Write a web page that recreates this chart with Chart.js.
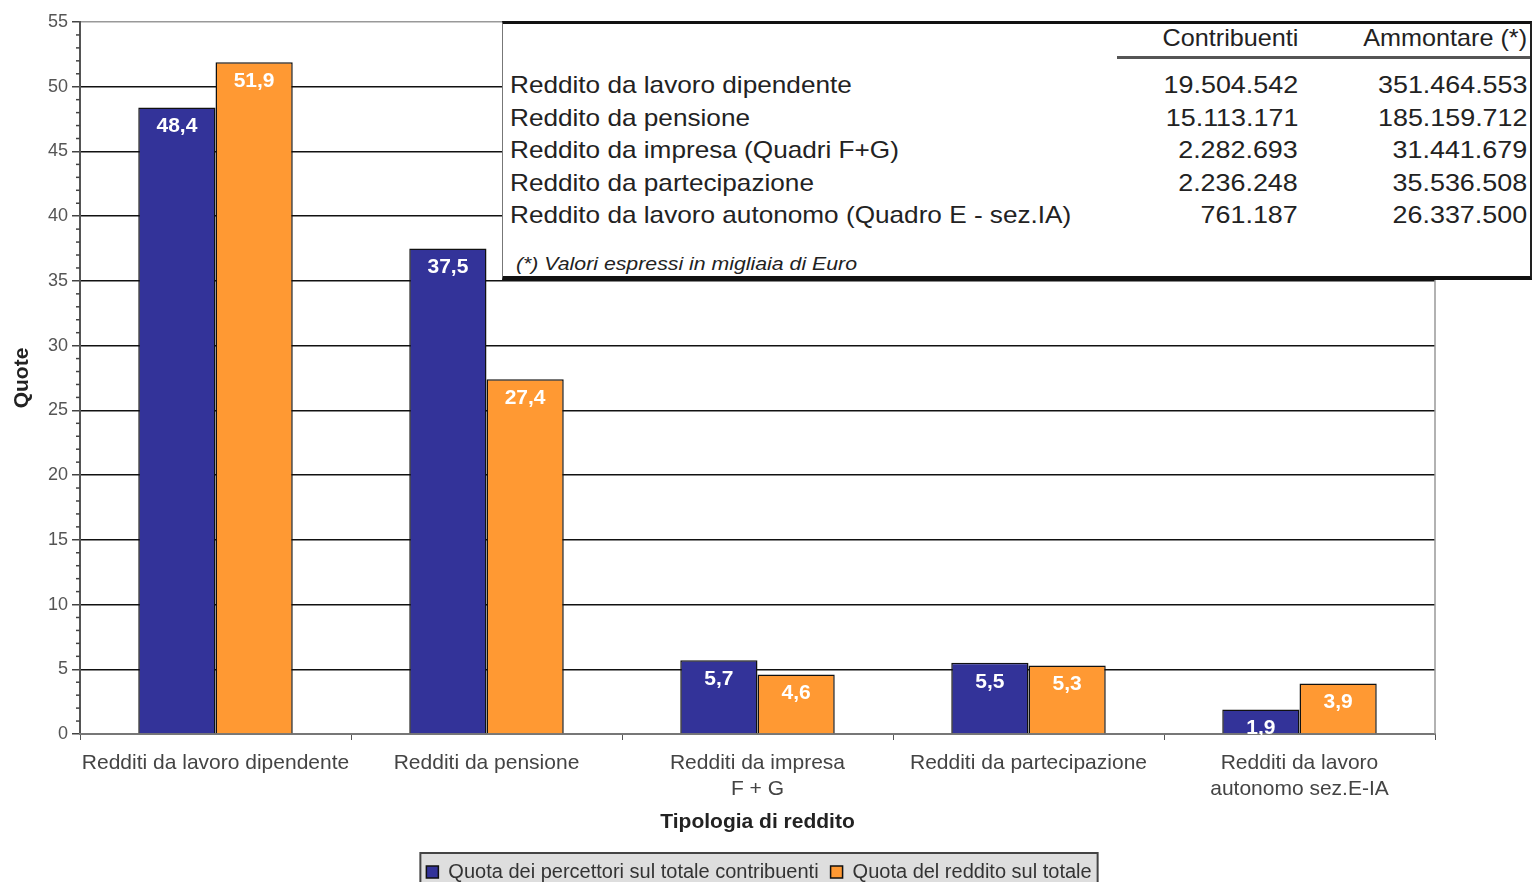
<!DOCTYPE html>
<html>
<head>
<meta charset="utf-8">
<script src="https://cdn.jsdelivr.net/npm/chart.js@4.4.1/dist/chart.umd.min.js"></script>
<style>
  body { margin: 0; background: #fff; overflow: hidden; }
  #wrap { position: relative; width: 1532px; height: 882px; overflow: hidden; }
  #c { position: absolute; left: 0; top: 0; }
  #tbl {
    position: absolute; left: 502px; top: 21px; width: 1027px; height: 252px;
    background: #fff; border-top: 3px solid #111; border-bottom: 4px solid #111;
    border-left: 1px solid #777; border-right: 2px solid #222;
    font-family: "Liberation Sans", Arial, sans-serif; color: #222;
  }
  #tbl div { position: absolute; white-space: nowrap; line-height: 1; }
  .hdr { font-size: 24px; transform: scaleX(1.05); transform-origin: right center; }
  .lbl { font-size: 24px; left: 7px; transform: scaleX(1.09); transform-origin: left center; }
  .num { font-size: 24px; text-align: right; transform: scaleX(1.12); transform-origin: right center; }
  .note { font-size: 19px; font-style: italic; left: 13px; transform: scaleX(1.12); transform-origin: left center; }
  #uline { left: 614px; right: 0; height: 3px; background: #555; }
</style>
</head>
<body>
<div id="wrap">
  <canvas id="c" width="1532" height="892"></canvas>
  <div id="tbl"></div>
</div>
<script>
const categories = [
  "Redditi da lavoro dipendente",
  "Redditi da pensione",
  ["Redditi da impresa", "F + G"],
  "Redditi da partecipazione",
  ["Redditi da lavoro", "autonomo sez.E-IA"],
];
const quotaPercettori = [48.4, 37.5, 5.7, 5.5, 1.9];
const quotaReddito = [51.9, 27.4, 4.6, 5.3, 3.9];
const seriesNames = ["Quota dei percettori sul totale contribuenti", "Quota del reddito sul totale"];

// table in the top right corner
const tableRows = [
  "Reddito da lavoro dipendente",
  "Reddito da pensione",
  "Reddito da impresa (Quadri F+G)",
  "Reddito da partecipazione",
  "Reddito da lavoro autonomo (Quadro E - sez.IA)",
];
const contribuenti = ["19.504.542", "15.113.171", "2.282.693", "2.236.248", "761.187"];
const ammontare = ["351.464.553", "185.159.712", "31.441.679", "35.536.508", "26.337.500"];
const tableHeader = ["Contribuenti", "Ammontare (*)"];
const tableNote = "(*) Valori espressi in migliaia di Euro";

// build the table
const tbl = document.getElementById("tbl");
function addDiv(cls, text, css) {
  const d = document.createElement("div");
  d.className = cls;
  d.textContent = text;
  Object.assign(d.style, css);
  tbl.appendChild(d);
  return d;
}
addDiv("hdr", tableHeader[0], { right: "232px", top: "2px" });
addDiv("hdr", tableHeader[1], { right: "3px", top: "2px" });
addDiv("", "", { top: "32px" }).id = "uline";
tableRows.forEach((r, i) => {
  const top = 49 + i * 32.5 + "px";
  addDiv("lbl", r, { top: top });
  addDiv("num", contribuenti[i], { right: "232px", top: top });
  addDiv("num", ammontare[i], { right: "3px", top: top });
});
addDiv("note", tableNote, { top: "230px" });

const FONT = "'Liberation Sans', Arial, sans-serif";

// background, plot frame, minor ticks and legend box
const decor = {
  id: "decor",
  beforeDraw(chart) {
    const c = chart.ctx;
    c.save();
    c.fillStyle = "#fff";
    c.fillRect(0, 0, chart.width, chart.height);
    const hb = chart.legend.legendHitBoxes;
    if (hb && hb.length) {
      const x0 = hb[0].left - 6;
      const x1 = hb[hb.length - 1].left + hb[hb.length - 1].width + 6;
      const cy = hb[0].top + hb[0].height / 2;
      c.fillStyle = "#dedede";
      c.fillRect(x0, cy - 19, x1 - x0, 44);
      c.strokeStyle = "#444";
      c.lineWidth = 2;
      c.strokeRect(x0, cy - 19, x1 - x0, 44);
    }
    c.restore();
  },
  afterDraw(chart) {
    const c = chart.ctx;
    const a = chart.chartArea;
    const y = chart.scales.y;
    c.save();
    c.strokeStyle = "#999";
    c.lineWidth = 1.5;
    c.beginPath();
    c.moveTo(a.right, a.top);
    c.lineTo(a.right, a.bottom);
    c.stroke();
    c.strokeStyle = "#444";
    c.lineWidth = 1.5;
    for (let v = 0; v <= 55; v++) {
      if (v % 5 === 0) continue;
      const py = y.getPixelForValue(v);
      c.beginPath();
      c.moveTo(a.left - 4, py);
      c.lineTo(a.left, py);
      c.stroke();
    }
    c.restore();
  },
};

// value labels inside the top of each bar
const barLabels = {
  id: "barLabels",
  afterDatasetsDraw(chart) {
    const c = chart.ctx;
    c.save();
    c.font = "bold 21px " + FONT;
    c.fillStyle = "#fff";
    c.textAlign = "center";
    c.textBaseline = "middle";
    chart.data.datasets.forEach((ds, di) => {
      chart.getDatasetMeta(di).data.forEach((bar, i) => {
        c.fillText(ds.data[i].toFixed(1).replace(".", ","), bar.x, bar.y + 19);
      });
    });
    c.restore();
  },
};

new Chart(document.getElementById("c"), {
  type: "bar",
  data: {
    labels: categories,
    datasets: [
      {
        label: seriesNames[0],
        data: quotaPercettori,
        backgroundColor: "#333399",
        borderColor: "#111",
        borderWidth: 1.5,
        borderSkipped: "bottom",
      },
      {
        label: seriesNames[1],
        data: quotaReddito,
        backgroundColor: "#ff9933",
        borderColor: "#111",
        borderWidth: 1.5,
        borderSkipped: "bottom",
      },
    ],
  },
  options: {
    responsive: false,
    animation: false,
    layout: { padding: { top: 22, right: 14, left: 0, bottom: 0 } },
    datasets: { bar: { barPercentage: 1, categoryPercentage: 0.57 } },
    scales: {
      y: {
        min: 0,
        max: 55,
        afterFit(s) { s.width = 80; },
        ticks: { stepSize: 5, padding: 4, color: "#555", font: { family: FONT, size: 18 } },
        grid: {
          color: (ctx) => (ctx.tick && ctx.tick.value === 55 ? "#999" : "#111"),
          lineWidth: 1.5,
          tickLength: 8,
          tickColor: "#444",
        },
        border: { color: "#555", width: 2 },
        title: {
          display: true,
          text: "Quote",
          color: "#222",
          font: { family: FONT, size: 21, weight: "bold" },
          padding: { top: 10, bottom: 0 },
        },
      },
      // empty spacer on the right, so the legend stays centred on the page
      y2: {
        position: "right",
        afterFit(s) { s.width = 83; },
        ticks: { display: false },
        grid: { display: false },
        border: { display: false },
      },
      x: {
        afterFit(s) { s.height = 116; },
        ticks: {
          color: "#444",
          padding: 10,
          autoSkip: false,
          maxRotation: 0,
          font: { family: FONT, size: 21, lineHeight: 1.24 },
        },
        grid: { drawOnChartArea: false, tickLength: 6, color: "#555" },
        border: { color: "#777", width: 2 },
        title: {
          display: true,
          text: "Tipologia di reddito",
          color: "#222",
          font: { family: FONT, size: 21, weight: "bold" },
          padding: { top: 0, bottom: 15 },
        },
      },
    },
    plugins: {
      legend: {
        display: true,
        position: "bottom",
        labels: {
          color: "#333",
          font: { family: FONT, size: 20 },
          boxWidth: 12,
          boxHeight: 12,
          padding: 12,
        },
      },
      tooltip: { enabled: false },
    },
  },
  plugins: [decor, barLabels],
});
</script>
</body>
</html>
